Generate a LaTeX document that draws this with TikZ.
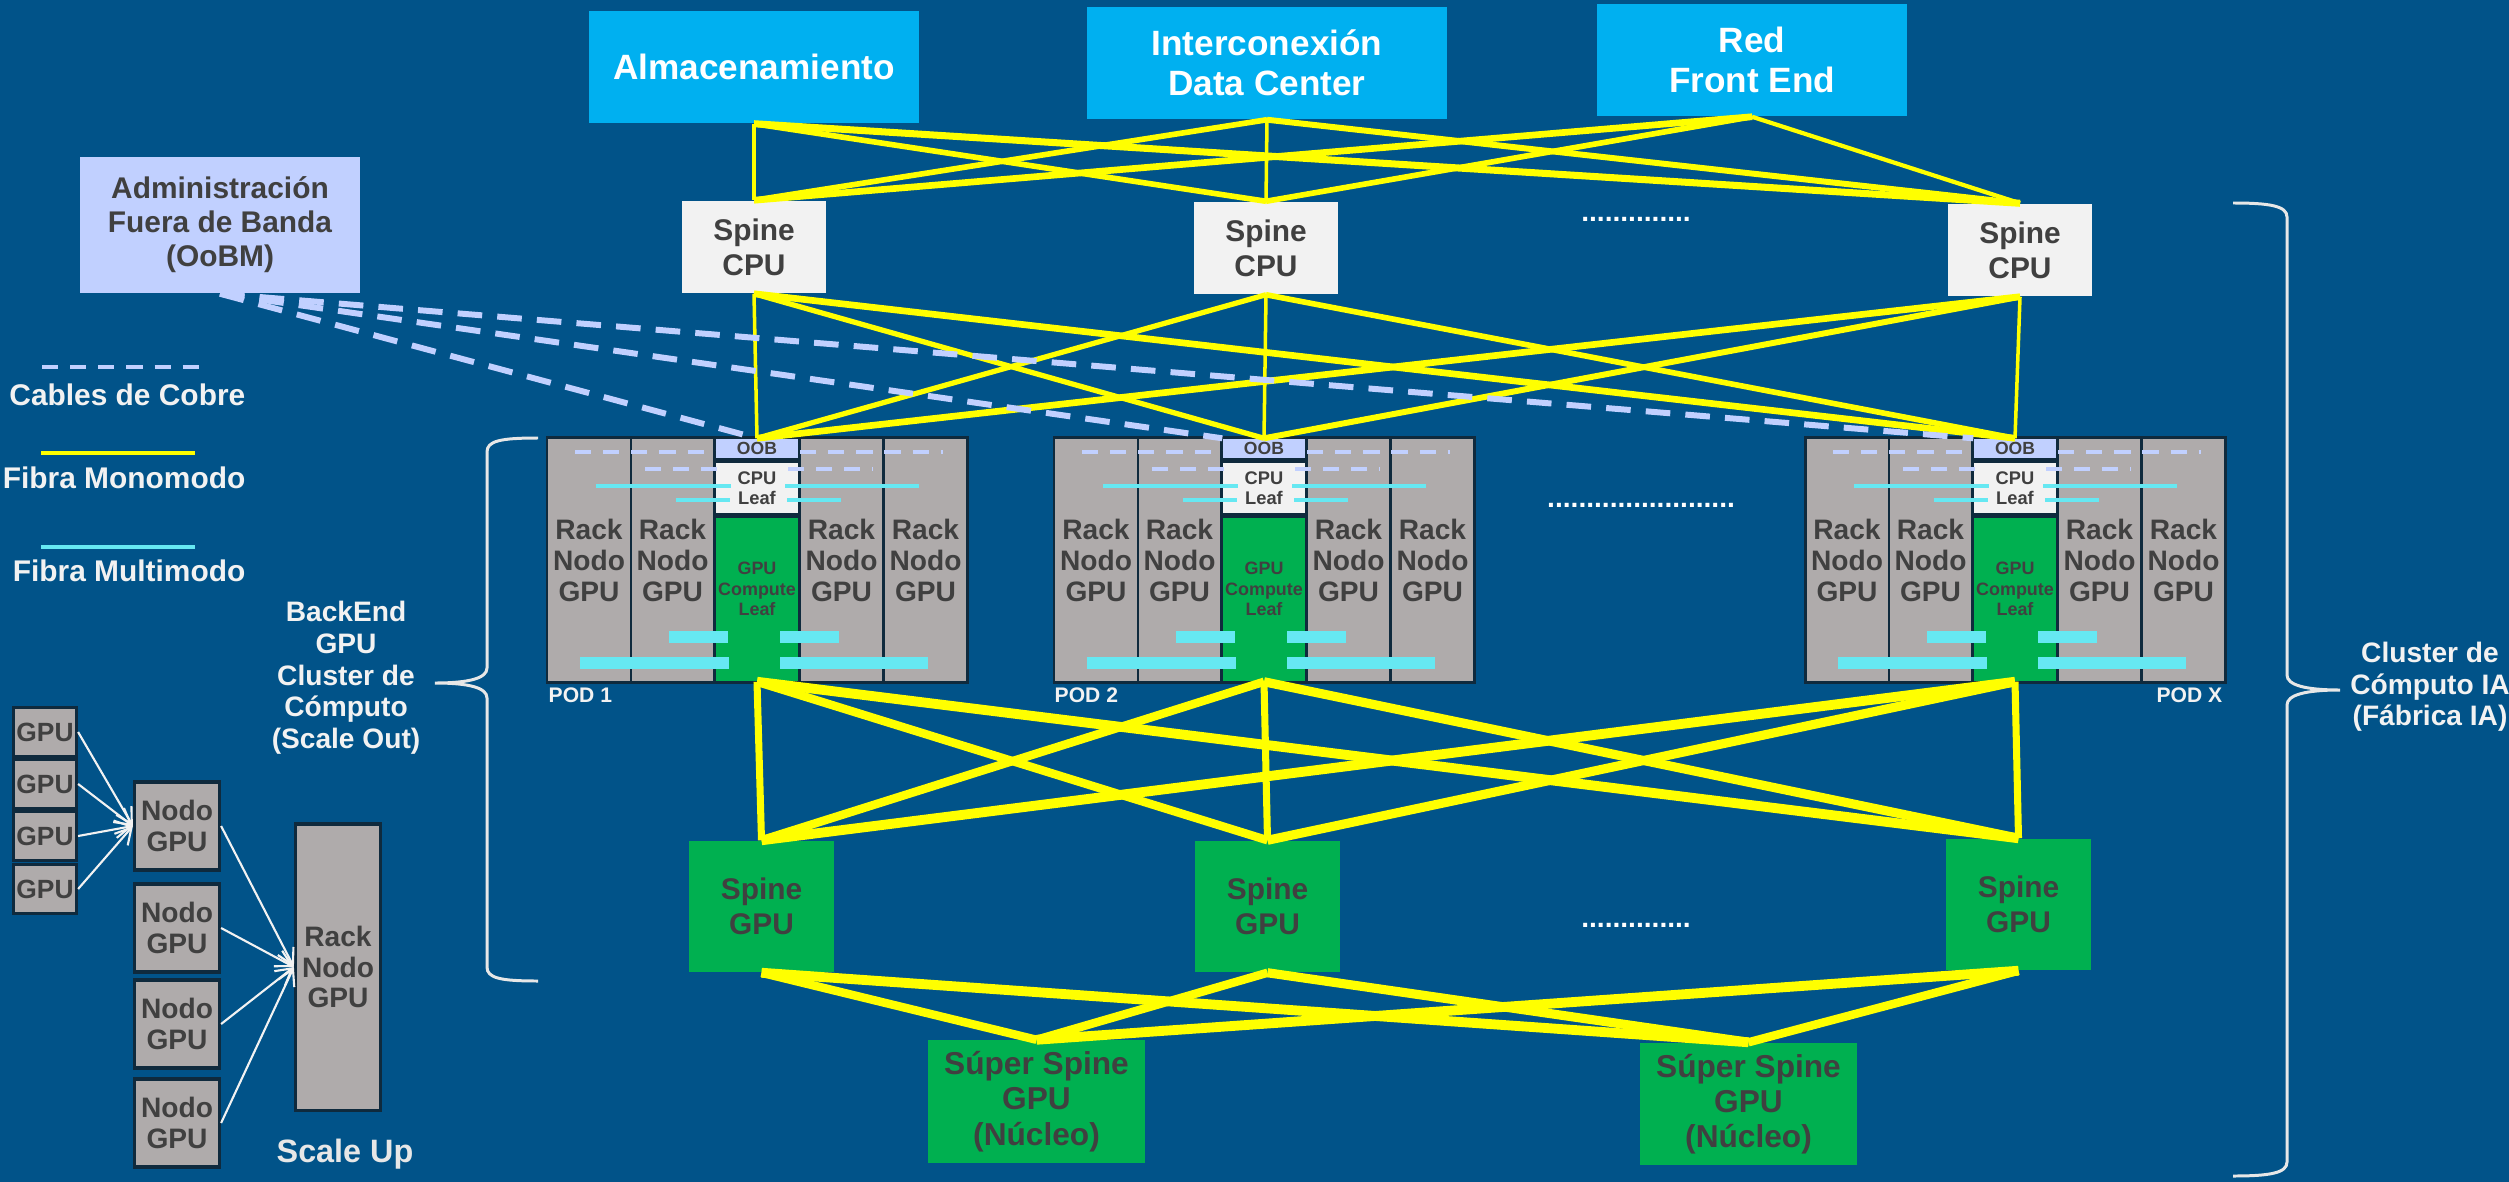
\documentclass[tikz,border=0pt]{standalone}
\usepackage{fontspec}
\setmainfont{Liberation Sans}
\usetikzlibrary{arrows.meta,calc}
\definecolor{fondo}{HTML}{015389}
\definecolor{celeste}{HTML}{00B0F0}
\definecolor{grisrack}{HTML}{AFABAB}
\definecolor{verde}{HTML}{00B050}
\definecolor{cian}{HTML}{66E8F2}
\definecolor{lavanda}{HTML}{C1D0FF}
\definecolor{marco}{HTML}{0F2A3D}
\definecolor{texto}{HTML}{404040}
\definecolor{blanco}{HTML}{F2F2F2}
\definecolor{amarillo}{HTML}{FFFF00}
\tikzset{
  caja/.style={inner sep=0pt, align=center, text=texto, font=\bfseries\fontsize{8.5}{10}\selectfont},
  superior/.style={caja, fill=celeste, text=white, font=\bfseries\fontsize{10}{11.4}\selectfont, minimum height=1.12cm},
  spinecpu/.style={caja, fill=blanco, minimum width=1.44cm, minimum height=0.92cm},
  spinegpu/.style={caja, fill=verde, minimum width=1.45cm, minimum height=1.31cm},
  superspine/.style={caja, fill=verde, font=\bfseries\fontsize{9}{10}\selectfont, minimum width=2.17cm, minimum height=1.22cm},
  rack/.style={caja, fill=grisrack, font=\bfseries\fontsize{8}{8.8}\selectfont, minimum width=0.81cm, minimum height=2.42cm},
  gpu/.style={caja, fill=grisrack, draw=marco, line width=0.9pt, font=\bfseries\fontsize{7.5}{8}\selectfont, minimum width=0.63cm, minimum height=0.49cm},
  nodogpu/.style={caja, fill=grisrack, draw=marco, line width=0.9pt, font=\bfseries\fontsize{8}{8.6}\selectfont, minimum width=0.85cm, minimum height=0.88cm},
  blanca/.style={inner sep=0pt, align=center, text=blanco, font=\bfseries\fontsize{8}{9}\selectfont},
  leyenda/.style={inner sep=0pt, anchor=east, text=blanco, font=\bfseries\fontsize{8.5}{10}\selectfont},
  etiqpod/.style={inner sep=0pt, text=blanco, font=\bfseries\fontsize{6}{7}\selectfont},
  puntos/.style={inner sep=0pt, text=white, font=\bfseries\fontsize{8}{8}\selectfont},
  fibra/.style={draw=amarillo},
  cobre/.style={draw=lavanda, line width=1.7pt, dash pattern=on 7pt off 4.3pt},
  cobrefino/.style={draw=lavanda, line width=1pt, dash pattern=on 4.6pt off 3.4pt},
  multimodo/.style={draw=cian, line width=1pt},
  barra/.style={draw=cian, line width=3.4pt},
  flecha/.style={draw=blanco, line width=0.6pt, -{Straight Barb[length=4.5pt,width=5pt]}},
  llave/.style={draw=blanco!90!gray, line width=0.85pt}
}
\begin{document}
\begin{tikzpicture}[x=0.01cm, y=-0.01cm]
\useasboundingbox (0,0) rectangle (2509,1182);
\fill[fondo] (0,0) rectangle (2509,1182);

\node[superior, minimum width=3.30cm] (alm) at (754,67) {Almacenamiento};
\node[superior, minimum width=3.59cm] (dci) at (1267,63) {Interconexión\\Data Center};
\node[superior, minimum width=3.10cm] (rfe) at (1752,60) {Red\\Front End};

\node[spinecpu] (spc1) at (754,247) {Spine\\CPU};
\node[spinecpu] (spc2) at (1266,248) {Spine\\CPU};
\node[spinecpu] (spc3) at (2020,250) {Spine\\CPU};
\node[puntos] (ptsCPU) at (1636,219) {..............};

\node[caja, fill=lavanda, minimum width=2.80cm, minimum height=1.36cm,
      font=\bfseries\fontsize{8.5}{9.7}\selectfont] (oobm) at (220,225)
      {Administración\\Fuera de Banda\\(OoBM)};

\draw[cobrefino] (42,367) -- (199,367);
\node[leyenda] (leyCobre) at (246,395) {Cables de Cobre};
\draw[fibra, line width=1pt] (41,453) -- (195,453);
\node[leyenda] (leyMono) at (246,478) {Fibra Monomodo};
\draw[multimodo] (41,547) -- (195,547);
\node[leyenda] (leyMulti) at (246,571) {Fibra Multimodo};

\foreach \p/\L in {1/546, 2/1053, X/1804}
{
\node[fill=marco, inner sep=0pt, minimum width=4.23cm, minimum height=2.48cm] (pod\p) at (\L+211.5,560) {};
\foreach \i/\dx in {a/43, b/126.5, d/295.5, e/379.5}
  \node[rack] (rack\p\i) at (\L+\dx,560) {Rack\\Nodo\\GPU};
\draw[cobrefino] (\L+29,452) -- (\L+397,452);
\node[caja, fill=lavanda, minimum width=0.82cm, minimum height=0.19cm,
      font=\bfseries\fontsize{5}{5}\selectfont] (oob\p) at (\L+211,448.5) {OOB};
\node[caja, fill=blanco, minimum width=0.82cm, minimum height=0.50cm,
      font=\bfseries\fontsize{5.2}{5.7}\selectfont] (leaf\p) at (\L+211,488) {CPU\\Leaf};
\node[caja, fill=verde, minimum width=0.82cm, minimum height=1.63cm] (gcl\p) at (\L+211,599.5) {};
\node[caja, font=\bfseries\fontsize{5.1}{5.8}\selectfont] (gcltxt\p) at (\L+211,589) {GPU\\Compute\\Leaf};
\draw[cobrefino] (\L+99,469) -- (\L+183,469);
\draw[cobrefino] (\L+242,469) -- (\L+327,469);
\draw[multimodo] (\L+50,486) -- (\L+185,486);
\draw[multimodo] (\L+239,486) -- (\L+373,486);
\draw[multimodo] (\L+130,500) -- (\L+184,500);
\draw[multimodo] (\L+241,500) -- (\L+295,500);
\draw[barra] (\L+123,637) -- (\L+182,637);
\draw[barra] (\L+234,637) -- (\L+293,637);
\draw[barra] (\L+34,663) -- (\L+183,663);
\draw[barra] (\L+234,663) -- (\L+382,663);
}
\node[etiqpod, anchor=west] (lbl1) at (548,695) {POD 1};
\node[etiqpod, anchor=west] (lbl2) at (1054,695) {POD 2};
\node[etiqpod, anchor=east] (lblX) at (2223,695) {POD X};
\node[puntos] (ptsPOD) at (1641,505) {........................};

\node[spinegpu] (spg1) at (761.5,906.5) {Spine\\GPU};
\node[spinegpu] (spg2) at (1267.5,906.5) {Spine\\GPU};
\node[spinegpu] (spg3) at (2018.5,904.5) {Spine\\GPU};
\node[puntos] (ptsGPU) at (1636,925) {..............};

\node[superspine] (ss1) at (1036.5,1101.5) {Súper Spine\\GPU\\(Núcleo)};
\node[superspine] (ss2) at (1748.5,1104) {Súper Spine\\GPU\\(Núcleo)};

\foreach \a/\s/\w in {alm/1/1.0, alm/2/1.6, alm/3/2.0, dci/1/1.6, dci/2/1.0, dci/3/1.7, rfe/1/1.9, rfe/2/1.6, rfe/3/1.2}
  \draw[fibra, line width=\w pt] (\a.south) -- (spc\s.north);
\foreach \s/\p/\w in {1/1/1.0, 1/2/1.5, 1/X/1.9, 2/1/1.5, 2/2/1.0, 2/X/1.6, 3/1/1.9, 3/2/1.7, 3/X/1.0}
  \draw[fibra, line width=\w pt] (spc\s.south) -- (oob\p.north);
\foreach \p/\s/\w in {1/1/2.0, 1/2/2.4, 1/3/2.8, 2/1/2.4, 2/2/2.0, 2/3/2.6, X/1/2.8, X/2/2.6, X/3/2.0}
  \draw[fibra, line width=\w pt] (gcl\p.south) -- (spg\s.north);
\foreach \s/\t/\w in {1/1/2.4, 1/2/2.8, 2/1/2.4, 2/2/2.6, 3/1/2.8, 3/2/2.4}
  \draw[fibra, line width=\w pt] (spg\s.south) -- (ss\t.north);

\draw[cobre] (oobm.south) -- (oob1.north);
\draw[cobre] (oobm.south) -- (oob2.north west);
\draw[cobre] (oobm.south) -- (oobX.north west);

\foreach \i/\y in {1/732, 2/784, 3/836, 4/889}
  \node[gpu] (gpu\i) at (45,\y) {GPU};
\foreach \i/\y in {1/826, 2/928, 3/1024, 4/1123}
  \node[nodogpu] (nodo\i) at (177,\y) {Nodo\\GPU};
\node[nodogpu, minimum height=2.86cm] (rackSU) at (338,967) {Rack\\Nodo\\GPU};
\node[inner sep=0pt, text=blanco!90!gray, font=\bfseries\fontsize{9.2}{10}\selectfont] (escala) at (345,1154) {Scale Up};
\foreach \i in {1,2,3,4}
{
\draw[flecha] (gpu\i.east) -- (nodo1.west);
\draw[flecha] (nodo\i.east) -- (rackSU.west);
}

\node[blanca] (backend) at (346,678) {BackEnd\\GPU\\Cluster de\\Cómputo\\(Scale Out)};
\draw[llave] (538,438) .. controls (500,438) and (487,441) .. (487,452) -- (487,668)
  .. controls (487,678) and (470,683) .. (435,683) .. controls (470,683) and (487,688) .. (487,698)
  -- (487,967) .. controls (487,978) and (500,981) .. (538,981);
\node[blanca] (fabrica) at (2430,687) {Cluster de\\Cómputo IA\\(Fábrica IA)};
\draw[llave] (2233,203) .. controls (2270,203) and (2287,206) .. (2287,217) -- (2287,675)
  .. controls (2287,685) and (2305,690) .. (2340,690) .. controls (2305,690) and (2287,695) .. (2287,705)
  -- (2287,1162) .. controls (2287,1173) and (2270,1176) .. (2233,1176);
\end{tikzpicture}
\end{document}
